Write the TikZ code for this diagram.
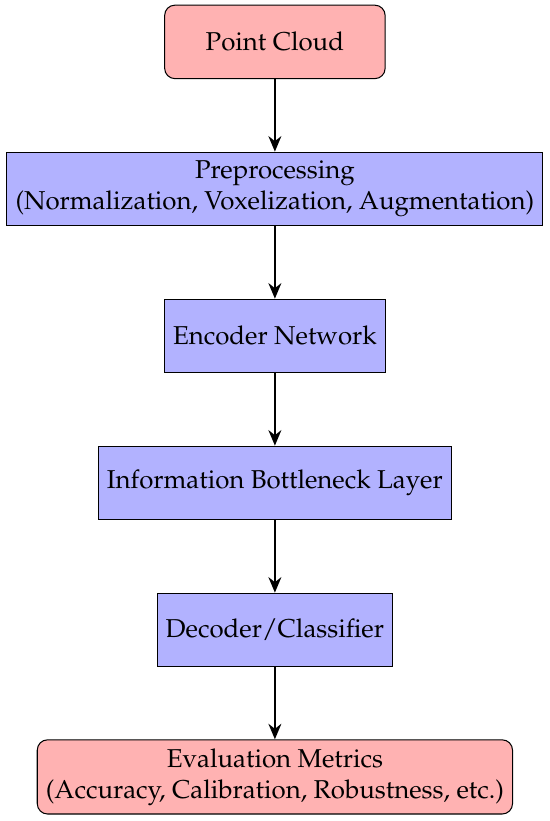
\documentclass[tikz,border=0pt]{standalone}
\usepackage[T1]{fontenc}
\usepackage{mathpazo}
\usepackage{tikz}
\usetikzlibrary{arrows.meta}

\begin{document}
\begin{tikzpicture}[
  scale=1.0,
  every node/.style={font=\normalsize},
  termbox/.style={draw,rounded corners=4pt,fill=red!30,minimum width=3cm,minimum height=1cm,align=center},
  stagebox/.style={draw,fill=blue!30,minimum width=3cm,minimum height=1cm,align=center},
  flow/.style={-{Stealth[length=6pt,width=5pt]},line width=0.8pt},
]
  \useasboundingbox (-3.74,0.57) rectangle (3.74,-10.6);
  % Input
  \node[termbox] (cloud) at (0, 0) {Point Cloud};
  % Stage 1
  \node[stagebox] (prep) at (0, -2) {Preprocessing\\(Normalization, Voxelization, Augmentation)};
  % Stage 2
  \node[stagebox] (enc) at (0, -4) {Encoder Network};
  % Stage 3
  \node[stagebox] (ib) at (0, -6) {Information Bottleneck Layer};
  % Stage 4
  \node[stagebox] (dec) at (0, -8) {Decoder/Classifier};
  % Output
  \node[termbox] (eval) at (0, -10) {Evaluation Metrics\\(Accuracy, Calibration, Robustness, etc.)};

  \draw[flow] (cloud) -- (prep);
  \draw[flow] (prep) -- (enc);
  \draw[flow] (enc) -- (ib);
  \draw[flow] (ib) -- (dec);
  \draw[flow] (dec) -- (eval);
\end{tikzpicture}
\end{document}
